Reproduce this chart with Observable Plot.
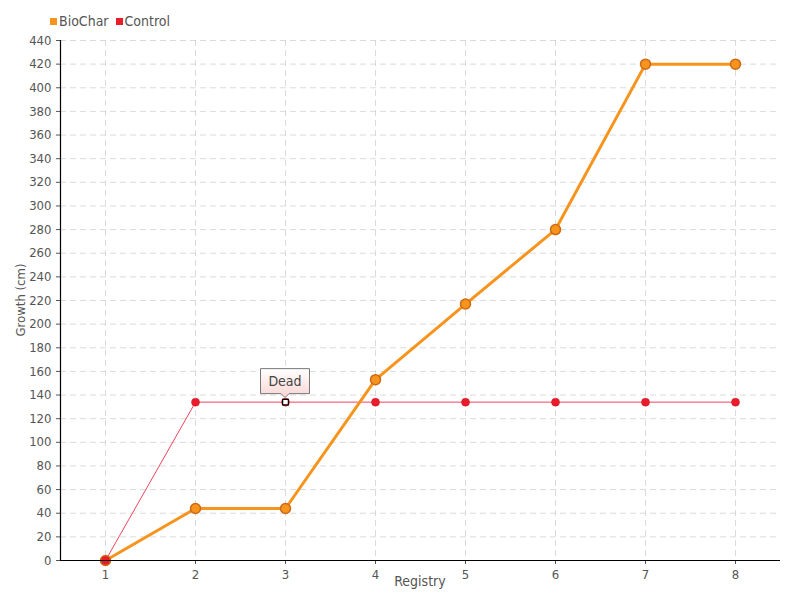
<!DOCTYPE html>
<html>
<head>
<meta charset="utf-8">
<script src="https://cdn.jsdelivr.net/npm/d3@7"></script>
<script src="https://cdn.jsdelivr.net/npm/@observablehq/plot@0.6"></script>
<style>
  body { margin: 0; background: #fff; font-family: "DejaVu Sans Condensed", "Liberation Sans Narrow", Roboto, sans-serif; font-stretch: condensed; }
  #legend { height: 30px; display: flex; gap: 7px; padding-left: 50px; padding-top: 13px; box-sizing: border-box; font-size: 14px; color: #555; line-height: 16px; }
  #legend i { display: inline-block; width: 7px; height: 7px; margin-right: 2px; vertical-align: 1px; }
  svg { display: block; }
</style>
</head>
<body>
<div id="legend"></div>
<div id="chart"></div>
<script>
const registry = [1, 2, 3, 4, 5, 6, 7, 8];
const biochar = [0, 44, 44, 153, 217, 280, 420, 420];
const control = [0, 134, 134, 134, 134, 134, 134, 134];
const seriesNames = ["BioChar", "Control"];
const seriesColors = ["#f7941d", "#ea1c2c"];
const yTicks = d3.range(0, 441, 20);
const xLabel = "Registry";
const yLabel = "Growth (cm)";
const annotations = [{x: 3, y: 134, label: "Dead"}];

const bioData = registry.map((r, i) => ({x: r, y: biochar[i]}));
const ctrlData = registry.map((r, i) => ({x: r, y: control[i]}));

const leg = document.getElementById("legend");
seriesNames.forEach((n, i) => {
  const s = document.createElement("span");
  s.innerHTML = `<i style="background:${seriesColors[i]}"></i>${n}`;
  leg.appendChild(s);
});

const FONT = '"DejaVu Sans Condensed", "Liberation Sans Narrow", Roboto, sans-serif';
const chart = Plot.plot({
  width: 800,
  height: 570,
  marginTop: 10,
  marginLeft: 60,
  marginRight: 20,
  marginBottom: 40,
  style: {fontFamily: FONT, fontSize: "13px", color: "#555", background: "#fff"},
  x: {domain: [0.5, 8.5], ticks: registry, tickFormat: d => d, label: null, tickSize: 4},
  y: {domain: [0, 440], ticks: yTicks, label: null, tickSize: 4},
  marks: [
    Plot.gridY(yTicks, {stroke: "#ccc", strokeOpacity: 0.7, strokeDasharray: "6,4"}),
    Plot.gridX(registry, {stroke: "#ccc", strokeOpacity: 0.7, strokeDasharray: "6,4"}),
    Plot.line(ctrlData, {x: "x", y: "y", stroke: "#f0455c", strokeWidth: 1}),
    Plot.line(bioData, {x: "x", y: "y", stroke: "#f7941d", strokeWidth: 3}),
    Plot.dot(bioData, {x: "x", y: "y", r: 5, fill: "#f7941d", stroke: "#cf6a14", strokeWidth: 1.5}),
    Plot.dot(ctrlData, {x: "x", y: "y", r: 4, fill: "#ea1c2c", stroke: "#c4101f", strokeWidth: 0.5}),
    Plot.dot(annotations, {x: "x", y: "y", symbol: "square", r: 3.2, fill: "#fff", stroke: "#000", strokeWidth: 1.2}),
    Plot.ruleY([0], {stroke: "#000", strokeWidth: 1.2}),
    Plot.ruleX([0.5], {stroke: "#000", strokeWidth: 1.2})
  ]
});
document.getElementById("chart").appendChild(chart);

const sx = chart.scale("x"), sy = chart.scale("y");
const svg = d3.select(chart);

// axis titles centered on the plot area
const xMid = (sx.apply(0.5) + sx.apply(8.5)) / 2;
const yMid = (sy.apply(0) + sy.apply(440)) / 2;
svg.append("text").attr("x", xMid).attr("y", sy.apply(0) + 16).attr("dy", "0.71em")
  .attr("text-anchor", "middle").attr("fill", "#555").attr("font-size", 14).text(xLabel);
svg.append("text").attr("transform", `translate(${20},${yMid}) rotate(-90)`).attr("dy", "0.35em")
  .attr("text-anchor", "middle").attr("fill", "#555").attr("font-size", 13).text(yLabel);

// Annotation callout placed via the plot's own scales
const defs = svg.append("defs");
const grad = defs.append("linearGradient").attr("id", "tipgrad").attr("x1", 0).attr("y1", 0).attr("x2", 0).attr("y2", 1);
grad.append("stop").attr("offset", "0%").attr("stop-color", "#fff");
grad.append("stop").attr("offset", "100%").attr("stop-color", "#fbd4d4");
annotations.forEach(a => {
  const px = sx.apply(a.x), py = sy.apply(a.y);
  const g = svg.append("g");
  const w = 49, h = 25, gap = 8;
  const top = py - gap - h, left = px - w / 2;
  g.append("path")
    .attr("d", `M${left},${top}h${w}v${h}h${-(w/2 - 4)}l-4,4l-4,-4h${-(w/2 - 4)}z`)
    .attr("fill", "url(#tipgrad)").attr("stroke", "#777").attr("stroke-width", 1);
  g.append("text").attr("x", px).attr("y", top + h / 2).attr("dy", "0.35em")
    .attr("text-anchor", "middle").attr("fill", "#444").attr("font-size", 14).text(a.label);
});
</script>
</body>
</html>
